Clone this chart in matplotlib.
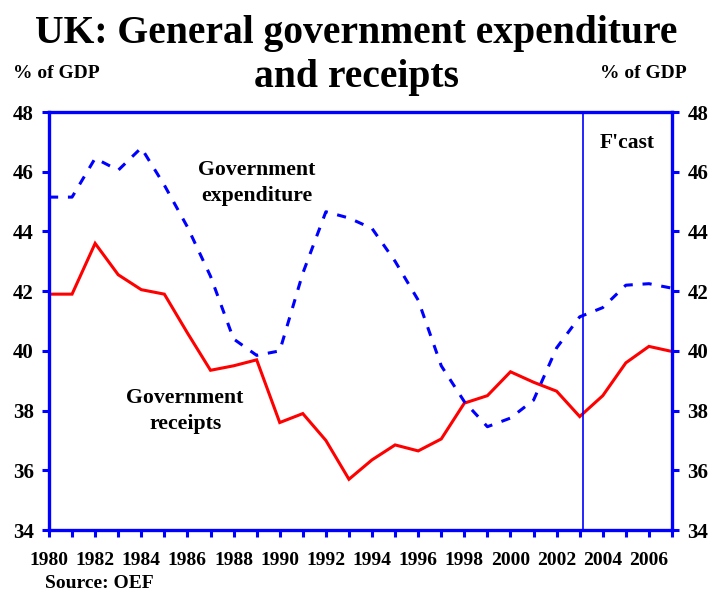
import matplotlib
matplotlib.use("Agg")
import matplotlib.pyplot as plt
from matplotlib.ticker import MultipleLocator

years = list(range(1980, 2008))
receipts = [41.9, 41.9, 43.6, 42.55, 42.05, 41.9, 40.6, 39.35, 39.5, 39.7,
            37.6, 37.9, 37.0, 35.7, 36.35, 36.85, 36.65, 37.05, 38.25, 38.5,
            39.3, 38.95, 38.65, 37.8, 38.5, 39.6, 40.15, 39.98]
expenditure = [45.15, 45.15, 46.45, 46.05, 46.8, 45.55, 44.15, 42.5, 40.4, 39.85,
               40.0, 42.6, 44.66, 44.45, 44.1, 43.0, 41.7, 39.5, 38.3, 37.46,
               37.75, 38.35, 40.1, 41.14, 41.45, 42.2, 42.25, 42.1]
forecast_start = 2003.15

FONT = "Liberation Serif"
BLUE = "#0000ff"
RED = "#ff0000"

fig = plt.figure(figsize=(7.13, 5.93), dpi=100)
ax = fig.add_axes([0.0687, 0.1062, 0.8738, 0.7049])

ax.plot(years, receipts, color=RED, lw=2.2, solid_joinstyle="miter")
ax.plot(years, expenditure, color=BLUE, lw=2.2, dashes=(3, 3.2))
ax.axvline(forecast_start, color=BLUE, lw=1.2)

ax.set_xlim(1980, 2007)
ax.set_ylim(34, 48)

for s in ax.spines.values():
    s.set_color(BLUE)
    s.set_linewidth(2.4)

ax.xaxis.set_major_locator(MultipleLocator(2))
ax.xaxis.set_minor_locator(MultipleLocator(1))
ax.yaxis.set_major_locator(MultipleLocator(2))
ax.tick_params(axis="x", which="both", direction="out", length=5, width=2.2,
               color=BLUE, pad=10.5, labelsize=14)
ax.tick_params(axis="y", which="both", direction="out", length=5, width=2.2,
               color=BLUE, left=True, right=True, labelleft=True, labelright=True,
               pad=6, labelsize=15)
for lab in ax.get_xticklabels() + ax.get_yticklabels():
    lab.set_fontfamily(FONT)
    lab.set_fontweight("bold")

txt = dict(family=FONT, weight="bold", color="black")
ax.text(1989.0, 45.62, "Government\nexpenditure", ha="center", va="center",
        fontsize=15.7, linespacing=1.4, **txt)
ax.text(1985.9, 37.97, "Government\nreceipts", ha="center", va="center",
        fontsize=15.7, linespacing=1.4, **txt)
ax.text(2005.07, 46.96, "F'cast", ha="center", va="center", fontsize=15.5, **txt)

fig.text(0.5, 0.9275, "UK: General government expenditure",
         ha="center", va="baseline", fontsize=28.5, **txt)
fig.text(0.5, 0.853, "and receipts",
         ha="center", va="baseline", fontsize=28.5, **txt)
fig.text(0.018, 0.8685, "% of GDP", ha="left", va="baseline", fontsize=14, **txt)
fig.text(0.842, 0.8685, "% of GDP", ha="left", va="baseline", fontsize=14, **txt)
fig.text(0.063, 0.0084, "Source: OEF", ha="left", va="baseline", fontsize=14, **txt)

fig.savefig("out.png", dpi=100)
